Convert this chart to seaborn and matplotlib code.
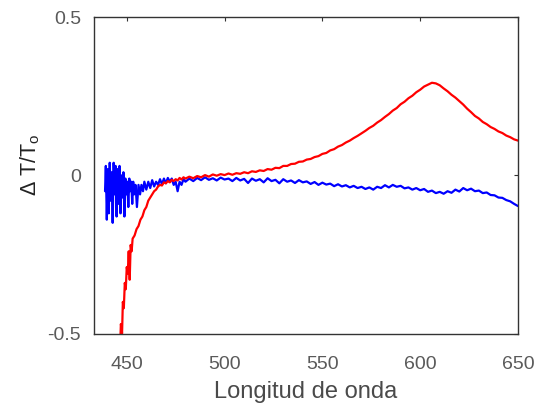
import matplotlib
matplotlib.use("Agg")
import matplotlib.pyplot as plt
import seaborn as sns
import pandas as pd

# red trace (nm, dT/T0)
red_nm = [446.5, 447.0, 447.6, 448.0, 448.5, 449.0, 449.5, 450.0, 450.5, 451.0,
          451.5, 452.0, 452.5, 453.0, 454.0, 455.0, 456.0, 457.0, 458.0, 459.0,
          460.0, 461.0, 462.0, 463.0, 464.0, 465.0, 466.0, 467.0, 468.0, 469.0,
          470.0, 471.0, 472.0, 473.0, 474.0, 475.0, 476.0, 477.0, 478.0, 479.0,
          480.0] + list(range(482, 651, 2))
red_val = [-0.56, -0.47, -0.50, -0.40, -0.42, -0.34, -0.36, -0.29, -0.31, -0.24,
           -0.33, -0.22, -0.24, -0.20, -0.19, -0.17, -0.16, -0.14, -0.13, -0.11,
           -0.10, -0.08, -0.07, -0.06, -0.05, -0.045, -0.035, -0.03, -0.032, -0.022,
           -0.025, -0.018, -0.022, -0.014, -0.018, -0.012, -0.016, -0.008, -0.013, -0.006,
           -0.010,
           -0.004, -0.009, -0.002, -0.006, 0.001, -0.004, 0.003, -0.001, 0.004, 0.001,
           0.006, 0.002, 0.007, 0.005, 0.010, 0.007, 0.013, 0.011, 0.016, 0.014,
           0.020, 0.018, 0.024, 0.023, 0.030, 0.030, 0.036, 0.037, 0.043, 0.044,
           0.050, 0.052, 0.058, 0.061, 0.068, 0.071, 0.079, 0.083, 0.091, 0.096,
           0.104, 0.110, 0.118, 0.125, 0.133, 0.141, 0.150, 0.157, 0.167, 0.175,
           0.185, 0.194, 0.205, 0.213, 0.225, 0.233, 0.244, 0.252, 0.263, 0.271,
           0.281, 0.287, 0.293, 0.291, 0.285, 0.275, 0.266, 0.255, 0.246, 0.235,
           0.224, 0.211, 0.200, 0.188, 0.180, 0.169, 0.162, 0.153, 0.147, 0.139,
           0.134, 0.126, 0.121, 0.114, 0.110]

# blue trace (nm, dT/T0)
blue_nm = [438.9, 439.3, 439.8, 440.3, 440.8, 441.3, 441.8, 442.3, 442.8, 443.3,
           443.8, 444.3, 444.8, 445.3, 445.8, 446.3, 446.8, 447.3, 447.8, 448.3,
           448.8, 449.3, 449.8, 450.3, 450.8, 451.3, 451.8, 452.3, 452.8, 453.3,
           453.8, 454.5, 455.2, 456.0, 456.8, 457.5, 458.3, 459.0, 460.0, 461.0,
           462.0, 463.0, 464.0, 465.0, 466.0, 467.0, 468.0, 469.0, 470.0, 471.0,
           472.0, 473.0, 474.0, 475.0, 476.0, 477.0, 478.0, 479.0, 480.0] + list(range(482, 651, 2))
blue_val = [-0.05, 0.03, -0.14, 0.02, -0.12, 0.04, -0.08, 0.01, -0.15, 0.04,
            -0.06, 0.03, -0.13, 0.02, -0.09, 0.03, -0.12, 0.00, -0.07, 0.01,
            -0.13, -0.01, -0.06, -0.02, -0.10, -0.01, -0.05, -0.02, -0.09, -0.02,
            -0.06, -0.03, -0.10, -0.03, -0.06, -0.03, -0.05, -0.02, -0.045, -0.02,
            -0.04, -0.015, -0.035, -0.02, -0.03, -0.012, -0.028, -0.01, -0.025, -0.008,
            -0.02, -0.01, -0.03, -0.02, -0.05, -0.02, -0.03, -0.012, -0.02,
            -0.010, -0.018, -0.008, -0.015, -0.006, -0.014, -0.009, -0.016, -0.007, -0.013,
            -0.010, -0.018, -0.008, -0.016, -0.011, -0.024, -0.010, -0.017, -0.012, -0.022,
            -0.009, -0.018, -0.014, -0.025, -0.012, -0.020, -0.016, -0.024, -0.015, -0.022,
            -0.019, -0.027, -0.021, -0.030, -0.023, -0.029, -0.026, -0.034, -0.028, -0.035,
            -0.031, -0.038, -0.033, -0.040, -0.036, -0.043, -0.038, -0.045, -0.036, -0.040,
            -0.031, -0.038, -0.030, -0.036, -0.033, -0.041, -0.038, -0.045, -0.040, -0.047,
            -0.043, -0.052, -0.048, -0.056, -0.052, -0.058, -0.050, -0.055, -0.045, -0.051,
            -0.040, -0.047, -0.042, -0.050, -0.048, -0.056, -0.054, -0.062, -0.063, -0.070,
            -0.071, -0.078, -0.082, -0.090, -0.097]

x_ticks = [450, 500, 550, 600, 650]
y_ticks = [-0.5, 0, 0.5]
y_tick_labels = ["-0.5", "0", "0.5"]

sns.set_style("white")
plt.rcParams['font.family'] = ['Liberation Sans', 'DejaVu Sans']

red = pd.DataFrame({'nm': red_nm, 'val': red_val})
blue = pd.DataFrame({'nm': blue_nm, 'val': blue_val})

fig = plt.figure(figsize=(5.39, 4.15), dpi=100)
ax = fig.add_axes([93.5 / 539, 81.5 / 415, 424.5 / 539, 316.2 / 415])
sns.lineplot(x='nm', y='val', data=blue, color='#0000ff', lw=1.6, estimator=None, sort=False, ax=ax)
sns.lineplot(x='nm', y='val', data=red, color='#ff0000', lw=1.6, estimator=None, sort=False, ax=ax)

ax.set_xlim(433, 650)
ax.set_ylim(-0.5, 0.5)
ax.set_xticks(x_ticks)
ax.set_yticks(y_ticks)
ax.set_yticklabels(y_tick_labels)
ax.tick_params(direction='in', length=3, width=0.8, colors='#333333',
               labelcolor='#5a5a5a', labelsize=14, top=True, right=True)
ax.tick_params(axis='x', pad=16)
ax.tick_params(axis='y', pad=9)
for s in ax.spines.values():
    s.set_color('#333333')
    s.set_linewidth(1.0)

ax.set_xlabel('Longitud de onda', fontsize=17, color='#4a4a4a', labelpad=6)
ax.set_ylabel('Δ T/T$_\\mathregular{o}$', fontsize=15.5, color='#222222')
ax.yaxis.set_label_coords(-0.121, 0.535)

fig.savefig('out.png', dpi=100)
